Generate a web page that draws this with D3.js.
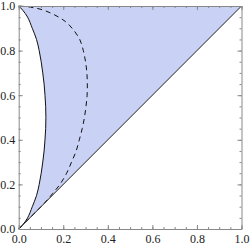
<!DOCTYPE html>
<html>
<head>
<meta charset="utf-8">
<script src="https://cdn.jsdelivr.net/npm/d3@7"></script>
<style>
  body { margin: 0; background: #fff; }
  svg { display: block; }
  .tick text { font-family: "Liberation Serif", "DejaVu Serif", serif; font-size: 12px; fill: #222; }
</style>
</head>
<body>
<div id="chart"></div>
<script>
// solid boundary curve as (y, x) pairs
const solidY = [0, 0.02, 0.05, 0.1, 0.15, 0.2, 0.25, 0.3, 0.35, 0.4, 0.45, 0.5, 0.55, 0.6, 0.65, 0.7, 0.75, 0.8, 0.85, 0.9, 0.95, 0.98, 1]
const solidX = [0, 0.019, 0.04, 0.061, 0.08, 0.092, 0.101, 0.108, 0.114, 0.118, 0.121, 0.122, 0.121, 0.118, 0.114, 0.108, 0.101, 0.092, 0.08, 0.061, 0.04, 0.019, 0]

// dashed curve
const dashY = [0, 0.05, 0.1, 0.13, 0.16, 0.2, 0.25, 0.3, 0.35, 0.4, 0.45, 0.5, 0.55, 0.6, 0.65, 0.7, 0.75, 0.8, 0.85, 0.9, 0.93, 0.95, 0.97, 0.985, 0.995, 1]
const dashX = [0, 0.05, 0.1, 0.128, 0.153, 0.185, 0.215, 0.237, 0.258, 0.272, 0.285, 0.295, 0.302, 0.307, 0.308, 0.306, 0.3, 0.29, 0.274, 0.24, 0.21, 0.18, 0.14, 0.1, 0.05, 0]

// diagonal y = x
const diagX = [0, 1]
const diagY = [0, 1]

const majorTicks = [0, 0.2, 0.4, 0.6, 0.8, 1.0]
const minorTicks = d3.range(0, 1.0001, 0.05)

const W = 250, H = 248
const margin = { top: 6, right: 8.5, bottom: 19, left: 18.7 }
const width = W - margin.left - margin.right
const height = H - margin.top - margin.bottom

const svg = d3.select('#chart').append('svg')
    .attr('width', W)
    .attr('height', H)
const g = svg.append('g')
    .attr('transform', `translate(${margin.left}, ${margin.top})`)

const x = d3.scaleLinear().domain([0, 1]).range([0, width])
const y = d3.scaleLinear().domain([0, 1]).range([height, 0])

const solidPts = solidY.map((v, i) => [solidX[i], v])
const dashPts = dashY.map((v, i) => [dashX[i], v])

const line = d3.line().x(d => x(d[0])).y(d => y(d[1])).curve(d3.curveCatmullRom)

// filled region: solid curve up, top edge, diagonal back down
g.append('path')
    .attr('d', line(solidPts) + `L${x(1)},${y(1)}Z`)
    .attr('fill', '#c9d1f4')
    .attr('stroke', 'none')

g.append('path')
    .attr('d', line(solidPts))
    .attr('fill', 'none')
    .attr('stroke', '#111')
    .attr('stroke-width', 1)

g.append('path')
    .attr('d', line(dashPts))
    .attr('fill', 'none')
    .attr('stroke', '#111')
    .attr('stroke-width', 1)
    .attr('stroke-dasharray', '5,4')

g.append('path')
    .attr('d', d3.line().x(d => x(d[0])).y(d => y(d[1]))(diagX.map((v, i) => [v, diagY[i]])))
    .attr('fill', 'none')
    .attr('stroke', '#222')
    .attr('stroke-width', 1)

// frame with inward ticks on all sides
const frameColor = '#888'
const fmt = d3.format('.1f')
const axes = [
    { ax: d3.axisBottom(x), t: `translate(0,${height})`, labels: true, pad: 5 },
    { ax: d3.axisLeft(y), t: 'translate(0,0)', labels: true, pad: 3.5 },
    { ax: d3.axisTop(x), t: 'translate(0,0)', labels: false, pad: 3 },
    { ax: d3.axisRight(y), t: `translate(${width},0)`, labels: false, pad: 3 },
]
axes.forEach(a => {
    // minor ticks
    g.append('g').attr('transform', a.t)
        .call(a.ax.tickValues(minorTicks).tickSize(-2).tickFormat('').tickSizeOuter(0))
        .call(s => s.select('.domain').remove())
        .call(s => s.selectAll('line').attr('stroke', frameColor))
    // major ticks
    const ag = g.append('g').attr('transform', a.t)
        .call(a.ax.tickValues(majorTicks).tickSize(-4).tickSizeOuter(0).tickPadding(a.pad)
            .tickFormat(a.labels ? fmt : ''))
    ag.select('.domain').attr('stroke', frameColor)
    ag.selectAll('line').attr('stroke', frameColor)
})
</script>
</body>
</html>
